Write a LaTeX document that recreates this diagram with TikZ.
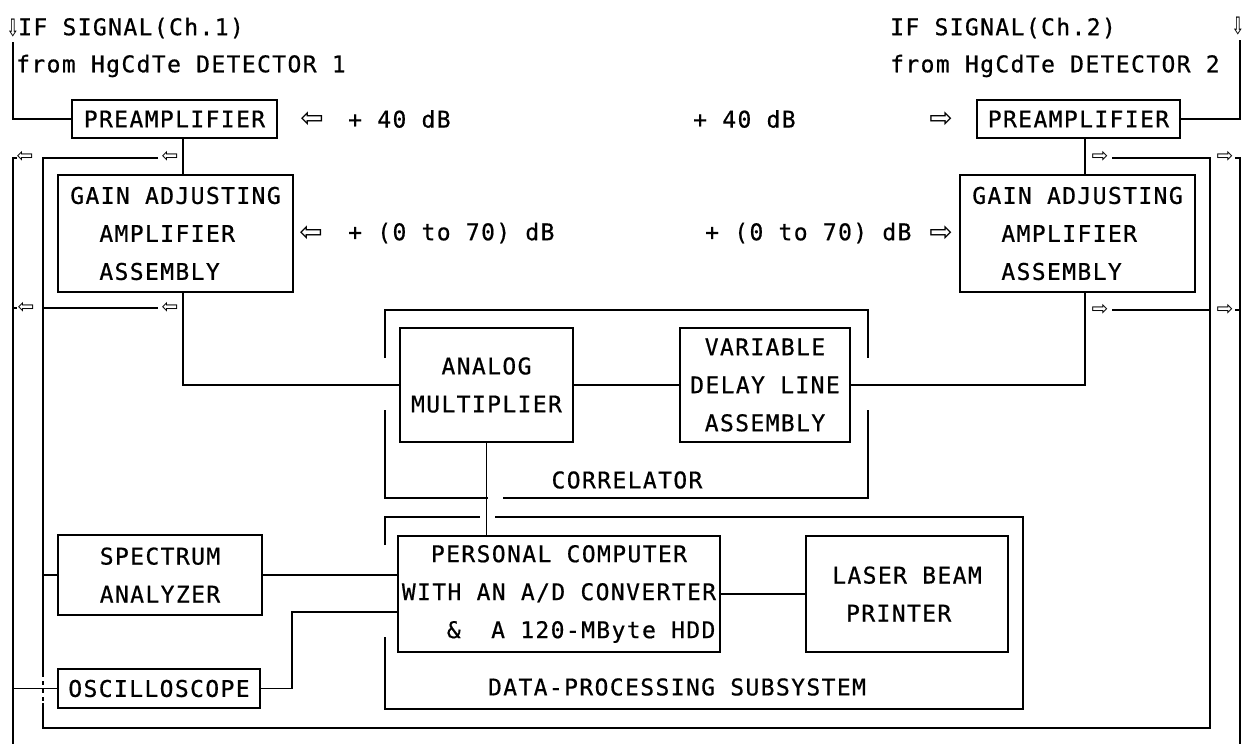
\documentclass[tikz,border=0pt]{standalone}
\usepackage{fontspec}
\setmonofont{DejaVu Sans Mono}[LetterSpace=6, FakeBold=0.6]
\newfontfamily\symf{DejaVu Sans}
\newcommand{\txtf}{\ttfamily\fontsize{23}{38}\selectfont}
\newcommand{\bigarrf}{\symf\fontsize{28}{28}\selectfont}
\newcommand{\smarrf}{\symf\fontsize{20}{20}\selectfont}
\newcommand{\toparrf}{\symf\fontsize{24}{24}\selectfont}
\begin{document}
\begin{tikzpicture}[x=1pt,y=-1pt,
  ln/.style={line width=1.2pt},
  brk/.style={line width=1.5pt},
  bx/.style 2 args={draw, line width=1.5pt, minimum width=#1, minimum height=#2, inner sep=0pt, align=center, font=\txtf},
  lbl/.style={inner sep=0pt, font=\txtf},
  barr/.style={inner sep=0pt, font=\bigarrf},
  sarr/.style={inner sep=0pt, font=\smarrf},
  tarr/.style={inner sep=0pt, font=\toparrf}]
\useasboundingbox (0,0) rectangle (1243,744);

% boxes
\node[bx={205}{38}] (preL) at (174.5,119) {PREAMPLIFIER};
\node[bx={203}{38}] (preR) at (1078.5,119) {PREAMPLIFIER};
\node[bx={235}{117}, align=left] (gainL) at (175.5,233.5) {GAIN ADJUSTING\\\hphantom{XX}AMPLIFIER\\\hphantom{XX}ASSEMBLY};
\node[bx={235}{117}, align=left] (gainR) at (1077.5,233.5) {GAIN ADJUSTING\\\hphantom{XX}AMPLIFIER\\\hphantom{XX}ASSEMBLY};
\node[bx={173}{114}] (am) at (486.5,385) {ANALOG\\MULTIPLIER};
\node[bx={170}{114}] (vdl) at (765,385) {VARIABLE\\DELAY LINE\\ASSEMBLY};
\node[bx={322}{116}] (pc) at (559,594) {PERSONAL COMPUTER\\WITH AN A/D CONVERTER\\\hphantom{XXX}\&\ \ A 120-MByte HDD};
\node[bx={202}{116}, align=left] (lp) at (907,594) {LASER BEAM\\\hphantom{X}PRINTER};
\node[bx={204}{80}] (sa) at (160,575) {SPECTRUM\\ANALYZER};
\node[bx={202}{39}] (osc) at (159,688.5) {OSCILLOSCOPE};

% top texts
\node[tarr] (tal) at (13,28) {\scalebox{0.65}[1]{⇩}};
\node[lbl, anchor=west] (sigL) at (18,28) {IF SIGNAL(Ch.1)};
\node[lbl, anchor=west] (detL) at (16,66) {from HgCdTe DETECTOR 1};
\node[tarr] (tar) at (1238,26) {\scalebox{0.65}[1]{⇩}};
\node[lbl, anchor=west] (sigR) at (890,28) {IF SIGNAL(Ch.2)};
\node[lbl, anchor=west] (detR) at (890,66) {from HgCdTe DETECTOR 2};

% gain labels
\node[barr] (a1) at (312,120) {⇦};
\node[lbl, anchor=west] (g1) at (348,119) {+ 40 dB};
\node[lbl, anchor=west] (g2) at (693,119) {+ 40 dB};
\node[barr] (a2) at (941,120) {⇨};
\node[barr] (a3) at (311,234) {⇦};
\node[lbl, anchor=west] (g3) at (348,233) {+ (0 to 70) dB};
\node[lbl, anchor=west] (g4) at (705,233) {+ (0 to 70) dB};
\node[barr] (a4) at (941,234) {⇨};

\node[lbl] (corr) at (627,480) {CORRELATOR};
\node[lbl] (dps) at (677,687) {DATA-PROCESSING SUBSYSTEM};

% brackets
\draw[brk] (385,358) -- (385,310) -- (868,310) -- (868,358);
\draw[brk] (385,410) -- (385,498) -- (488,498);
\draw[brk] (503,498) -- (868,498) -- (868,410);
\draw[brk] (385,545) -- (385,517) -- (480,517);
\draw[brk] (495,517) -- (1023,517) -- (1023,709) -- (385,709) -- (385,637);

% main signal path
\coordinate (vL) at (183,0);
\coordinate (vR) at (1085,0);
\draw[ln] (preL.south -| vL) -- (gainL.north -| vL);
\draw[ln] (gainL.south -| vL) |- (am.west);
\draw[ln] (am.east) -- (vdl.west);
\draw[ln] (vdl.east) -| (gainR.south -| vR);
\draw[ln] (preR.south -| vR) -- (gainR.north -| vR);
\draw[ln] (am.south) -- (am.south |- pc.north);
\draw[ln] (pc.east) -- (lp.west);
\draw[ln] (sa.east) -- (sa.east -| pc.west);
\coordinate (oscb) at (292,612);
\draw[ln] (osc.east) -| (oscb) -- (oscb -| pc.west);

% left side lines
\coordinate (topL) at (13,42);
\draw[ln] (topL) |- (preL.west);
\coordinate (oc1) at (13,158);
\draw[ln] (17,158) -- (oc1) -- (13,744);
\node[sarr] (s1) at (25,157) {⇦};
\draw[ln] (13,308) -- (17,308);
\node[sarr] (s2) at (26,308) {⇦};
\draw[ln] (13,688.5) -- (osc.west);
\coordinate (ic1) at (43,158);
\draw[ln] (158,158) -- (ic1) -- (43,673);
\node[sarr] (s3) at (170,157) {⇦};
\draw[ln, dash pattern=on 4pt off 4pt] (43,673) -- (43,703);
\coordinate (ic2) at (43,728);
\coordinate (ic3) at (1210,728);
\draw[ln] (43,703) -- (ic2) -- (ic3) -- (1210,158) -- (1112,158);
\node[sarr] (s4) at (1100,157) {⇨};
\draw[ln] (43,308) -- (158,308);
\node[sarr] (s5) at (170,308) {⇦};
\draw[ln] (43,575) -- (sa.west);

% right side lines
\coordinate (topR) at (1240,40);
\draw[ln] (topR) |- (preR.east);
\draw[ln] (1235,158) -- (1240,158) -- (1240,744);
\node[sarr] (s6) at (1225,157) {⇨};
\draw[ln] (1235,310) -- (1240,310);
\node[sarr] (s7) at (1225,310) {⇨};
\draw[ln] (1112,310) -- (1210,310);
\node[sarr] (s8) at (1100,310) {⇨};
\end{tikzpicture}
\end{document}
